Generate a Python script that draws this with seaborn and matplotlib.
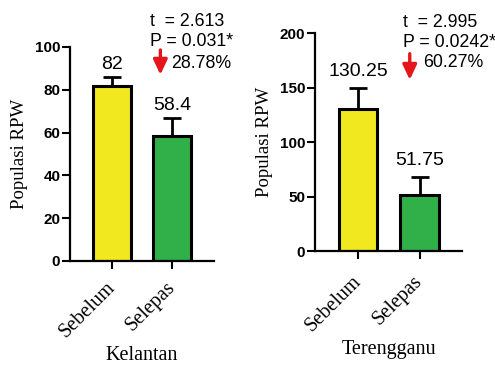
import numpy as np
import pandas as pd
import matplotlib
matplotlib.use("Agg")
import matplotlib.pyplot as plt
import seaborn as sns

# data
categories = ["Sebelum", "Selepas"]
kelantan_mean = [82, 58.4]
kelantan_err = [4.0, 8.4]
terengganu_mean = [130.25, 51.75]
terengganu_err = [19.5, 16.5]
kelantan_stats = ["t  = 2.613", "P = 0.031*", "28.78%"]
terengganu_stats = ["t  = 2.995", "P = 0.0242*", "60.27%"]

bar_colors = ["#F1E81F", "#31B04A"]
serif = "Liberation Serif"
sans = "Liberation Sans"

sns.set_theme(style="ticks")
plt.rcParams["font.family"] = [sans, "DejaVu Sans"]
plt.rcParams["text.color"] = "black"
plt.rcParams["axes.labelcolor"] = "black"
plt.rcParams["xtick.color"] = "black"
plt.rcParams["ytick.color"] = "black"

fig = plt.figure(figsize=(4.95, 3.68), dpi=100)
ax1 = fig.add_axes([0.1414, 0.2908, 0.2909, 0.5815])
ax2 = fig.add_axes([0.6364, 0.3179, 0.2970, 0.5924])


def draw_panel(ax, means, errs, ymax, ystep, stats, xlabel, txt_pos, arrow_x, arrow_y,
               pct_pos, line_gap, val_off, xpad, xlab_y):
    df = pd.DataFrame({"group": categories, "value": means})
    sns.barplot(data=df, x="group", y="value", hue="group", palette=bar_colors,
                legend=False, width=0.63, edgecolor="black", linewidth=2.2, ax=ax,
                saturation=1)
    ax.errorbar(range(len(means)), means, yerr=[[0] * len(errs), errs], fmt="none",
                ecolor="black", elinewidth=2, capsize=6.5, capthick=2, zorder=1)
    for i, (m, e) in enumerate(zip(means, errs)):
        ax.annotate(f"{m:g}", (i, m + e), xytext=(0, val_off), textcoords="offset points",
                    ha="center", va="bottom", fontsize=14, family=sans)
    ax.set_xlim(-0.7, 1.69)
    ax.set_ylim(0, ymax)
    ax.set_yticks(np.arange(0, ymax + 1, ystep))
    for lab in ax.get_yticklabels():
        lab.set_fontweight("bold")
        lab.set_fontsize(11)
        lab.set_family(sans)
    ax.set_xticks(range(len(categories)))
    ax.set_xticklabels(categories, rotation=45, ha="right", va="center",
                       rotation_mode="anchor", fontsize=14.5, family=serif)
    ax.tick_params(axis="y", width=1.5, length=6, pad=1)
    ax.tick_params(axis="x", width=1.5, length=6, pad=xpad)
    for s in ["left", "bottom"]:
        ax.spines[s].set_linewidth(1.6)
        ax.spines[s].set_color("black")
    sns.despine(ax=ax)
    ax.set_ylabel("Populasi RPW", fontsize=13.5, family=serif, labelpad=5)
    ax.set_xlabel(xlabel, fontsize=14.5, family=serif, va="center")
    ax.xaxis.set_label_coords(0.5, xlab_y)
    x0, y0 = txt_pos
    ax.text(x0, y0, stats[0], fontsize=12.8, family=sans, va="center", clip_on=False)
    ax.text(x0, y0 - line_gap, stats[1], fontsize=12.8, family=sans, va="center", clip_on=False)
    ax.text(pct_pos[0], pct_pos[1], stats[2], fontsize=12.8, family=sans, va="center", clip_on=False)
    ax.annotate("", xy=(arrow_x, arrow_y[1]), xytext=(arrow_x, arrow_y[0]),
                arrowprops=dict(arrowstyle="-|>,head_width=0.35,head_length=0.75",
                                color="#E5161B", lw=2.4, shrinkA=0, shrinkB=0),
                annotation_clip=False)


draw_panel(ax1, kelantan_mean, kelantan_err, 100, 20, kelantan_stats, "Kelantan",
           (0.63, 111.7), 0.8, (98.6, 87), (0.98, 92.5), 9.35, 3, 11, -0.44)
draw_panel(ax2, terengganu_mean, terengganu_err, 200, 50, terengganu_stats, "Terengganu",
           (0.73, 210), 0.84, (181, 157), (1.05, 172.5), 18.3, 5.5, 14, -0.454)

fig.savefig("out.png", dpi=100)
